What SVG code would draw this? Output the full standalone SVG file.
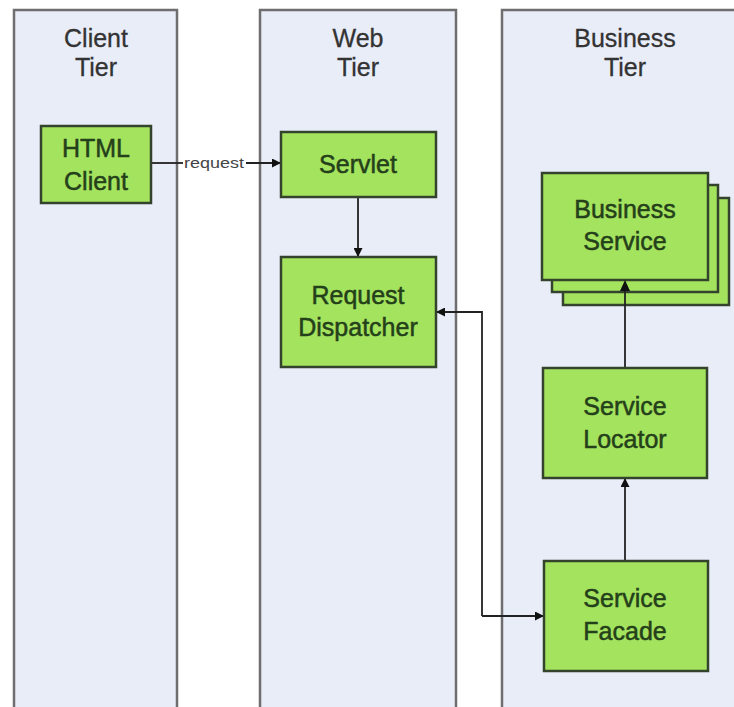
<svg xmlns="http://www.w3.org/2000/svg" width="734" height="707" viewBox="0 0 734 707">
<defs>
<style>
.tier{fill:#e9edf8;stroke:#6e6e6e;stroke-width:2.5}
.box{fill:#a4e35e;stroke:#34432c;stroke-width:2.5}
.title{font-family:"Liberation Sans",Arial,sans-serif;font-size:25px;fill:#333;stroke:#333;stroke-width:0.3;text-anchor:middle}
.lbl{font-family:"Liberation Sans",Arial,sans-serif;font-size:25px;fill:#24401a;stroke:#24401a;stroke-width:0.5;text-anchor:middle}
.conn{fill:none;stroke:#222;stroke-width:1.8}
.small{font-family:"Liberation Sans",Arial,sans-serif;font-size:15px;fill:#444;text-anchor:middle}
</style>
<marker id="ah" viewBox="0 0 10 10" refX="10" refY="5" markerWidth="11" markerHeight="9" markerUnits="userSpaceOnUse" orient="auto">
<path d="M0,0 L10,5 L0,10 z" fill="#111"/>
</marker>
</defs>
<rect width="734" height="707" fill="#fff"/>
<g id="client-tier">
<rect class="tier" x="14" y="10" width="163" height="710"/>
<text class="title" x="96" y="47">Client</text>
<text class="title" x="96" y="76">Tier</text>
</g>
<g id="web-tier">
<rect class="tier" x="260" y="10" width="196" height="710"/>
<text class="title" x="358" y="47">Web</text>
<text class="title" x="358" y="76">Tier</text>
</g>
<g id="business-tier">
<rect class="tier" x="502" y="10" width="240" height="710"/>
<text class="title" x="625" y="47">Business</text>
<text class="title" x="625" y="76">Tier</text>
</g>
<g id="connectors">
<line class="conn" x1="151" y1="163" x2="183" y2="163"/>
<line class="conn" x1="246" y1="163" x2="281" y2="163" marker-end="url(#ah)"/>
<text class="small" x="214" y="168" textLength="60" lengthAdjust="spacingAndGlyphs">request</text>
<line class="conn" x1="358" y1="197" x2="358" y2="257" marker-end="url(#ah)"/>
<polyline class="conn" points="482,616 482,312 436,312" marker-end="url(#ah)"/>
<line class="conn" x1="482" y1="616" x2="544" y2="616" marker-end="url(#ah)"/>
<line class="conn" x1="625" y1="561" x2="625" y2="478" marker-end="url(#ah)"/>
<line class="conn" x1="625" y1="368" x2="625" y2="280" marker-end="url(#ah)"/>
</g>
<g id="business-service">
<rect class="box" x="563" y="198" width="166" height="107"/>
<rect class="box" x="552" y="185" width="166" height="107"/>
<rect class="box" x="542" y="173" width="166" height="107"/>
<line class="conn" x1="625" y1="290" x2="625" y2="306"/>
<path d="M620,291 L625,280 L630,291 z" fill="#111"/>
<text class="lbl" x="625" y="218">Business</text>
<text class="lbl" x="625" y="250">Service</text>
</g>
<g id="html-client">
<rect class="box" x="41" y="126" width="110" height="77"/>
<text class="lbl" x="96" y="157">HTML</text>
<text class="lbl" x="96" y="190">Client</text>
</g>
<g id="servlet">
<rect class="box" x="281" y="132" width="155" height="65"/>
<text class="lbl" x="358" y="173">Servlet</text>
</g>
<g id="request-dispatcher">
<rect class="box" x="281" y="257" width="155" height="110"/>
<text class="lbl" x="358" y="304">Request</text>
<text class="lbl" x="358" y="336">Dispatcher</text>
</g>
<g id="service-locator">
<rect class="box" x="543" y="368" width="164" height="110"/>
<text class="lbl" x="625" y="415">Service</text>
<text class="lbl" x="625" y="448">Locator</text>
</g>
<g id="service-facade">
<rect class="box" x="544" y="561" width="164" height="110"/>
<text class="lbl" x="625" y="607">Service</text>
<text class="lbl" x="625" y="640">Facade</text>
</g>
</svg>
